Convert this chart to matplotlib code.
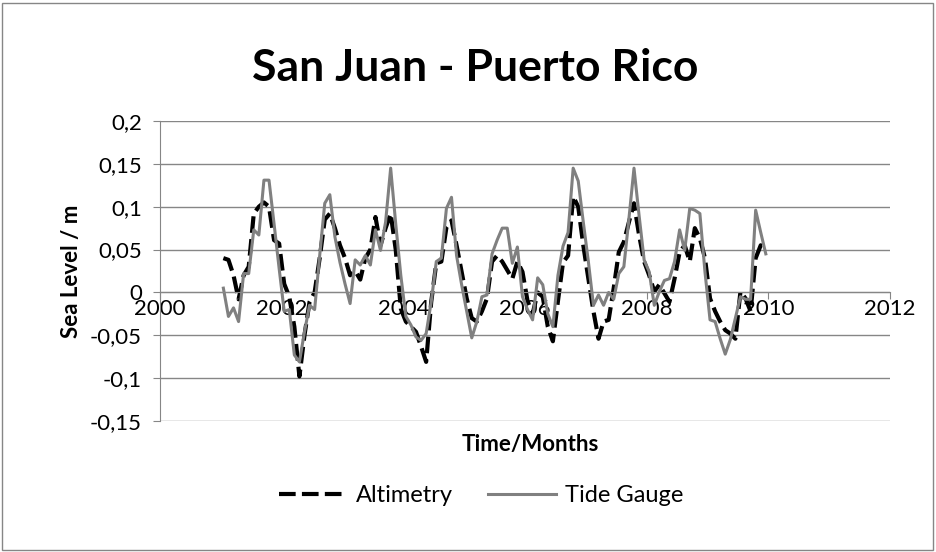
import matplotlib
matplotlib.use("Agg")
import matplotlib.pyplot as plt
from matplotlib.patches import Rectangle
import numpy as np

plt.rcParams['font.family'] = ['Lato', 'DejaVu Sans']

# monthly series, Jan 2001 .. Dec 2009
start_year = 2001
altimetry = [
    0.040, 0.038, 0.020, -0.008, 0.020, 0.030, 0.092, 0.100, 0.105, 0.100, 0.061, 0.057,
    0.010, -0.005, -0.040, -0.098, -0.050, -0.011, 0.000, 0.040, 0.085, 0.092, 0.075, 0.055,
    0.040, 0.020, 0.025, 0.015, 0.040, 0.050, 0.088, 0.055, 0.075, 0.092, 0.050, -0.019,
    -0.034, -0.040, -0.046, -0.063, -0.081, -0.011, 0.034, 0.036, 0.076, 0.084, 0.055, 0.024,
    -0.007, -0.030, -0.034, -0.022, -0.007, 0.036, 0.043, 0.036, 0.026, 0.016, 0.036, 0.024,
    -0.010, -0.025, 0.000, -0.005, -0.040, -0.057, -0.010, 0.035, 0.043, 0.112, 0.100, 0.055,
    0.016, -0.022, -0.054, -0.034, -0.032, 0.005, 0.047, 0.059, 0.082, 0.104, 0.067, 0.036,
    0.020, 0.001, 0.009, -0.001, -0.011, 0.016, 0.047, 0.055, 0.036, 0.075, 0.063, 0.040,
    -0.007, -0.022, -0.034, -0.044, -0.048, -0.054, 0.001, -0.007, -0.022, 0.040, 0.055, 0.052,
]
tide_gauge = [
    0.005, -0.028, -0.018, -0.034, 0.022, 0.022, 0.073, 0.067, 0.131, 0.131, 0.080, 0.028,
    -0.022, -0.020, -0.073, -0.081, -0.046, -0.015, -0.020, 0.043, 0.104, 0.114, 0.065, 0.035,
    0.010, -0.013, 0.038, 0.032, 0.043, 0.032, 0.073, 0.049, 0.082, 0.145, 0.080, 0.020,
    -0.028, -0.038, -0.052, -0.056, -0.048, -0.011, 0.036, 0.040, 0.098, 0.111, 0.043, 0.009,
    -0.022, -0.053, -0.034, -0.005, -0.003, 0.045, 0.061, 0.075, 0.075, 0.034, 0.053, -0.005,
    -0.020, -0.032, 0.017, 0.009, -0.025, -0.040, 0.020, 0.054, 0.070, 0.145, 0.130, 0.082,
    0.036, -0.015, -0.003, -0.015, 0.000, -0.008, 0.022, 0.030, 0.086, 0.145, 0.090, 0.038,
    0.024, -0.015, 0.001, 0.014, 0.016, 0.036, 0.073, 0.049, 0.098, 0.096, 0.092, 0.024,
    -0.032, -0.034, -0.054, -0.072, -0.055, -0.030, -0.005, -0.008, -0.008, 0.096, 0.070, 0.045,
]
x_ticks = [2000, 2002, 2004, 2006, 2008, 2010, 2012]
y_ticks = [-0.15, -0.1, -0.05, 0, 0.05, 0.1, 0.15, 0.2]

t = start_year + (np.arange(len(altimetry)) + 0.5) / 12

grid_col = '#868686'

fig = plt.figure(figsize=(9.36, 5.52), dpi=100)
ax = fig.add_axes([160/936, 1 - 421/552, 730/936, 300/552])

ax.plot(t, altimetry, color='black', lw=3.0, dashes=(4, 1.5), label='Altimetry')
ax.plot(t, tide_gauge, color='#808080', lw=2.2, label='Tide Gauge')

ax.set_xlim(2000, 2012)
ax.set_ylim(-0.15, 0.2)
ax.set_xticks(x_ticks)
ax.set_yticks(y_ticks)
ax.set_yticklabels([('%g' % v).replace('.', ',') for v in y_ticks])
ax.yaxis.grid(True, color=grid_col, lw=1)
ax.set_axisbelow(True)

for s in ['top', 'right']:
    ax.spines[s].set_visible(False)
ax.spines['bottom'].set_position(('data', 0))
ax.spines['bottom'].set_color(grid_col)
ax.spines['left'].set_color(grid_col)
ax.tick_params(axis='both', labelsize=16, colors=grid_col, labelcolor='black', length=5)
ax.tick_params(axis='x', pad=0)
ax.tick_params(axis='y', pad=8)

ax.set_ylabel('Sea Level / m', fontsize=16, fontweight='bold', labelpad=6)
fig.text(530/936, 1 - 445/552, 'Time/Months', fontsize=16, fontweight='bold',
         ha='center', va='center')
fig.text(475/936, 1 - 68/552, 'San Juan - Puerto Rico', fontsize=32, fontweight='bold',
         ha='center', va='center')

fig.legend(loc='center', bbox_to_anchor=(481/936, 1 - 496/552), ncol=2, frameon=False,
           fontsize=17, handlelength=2.9, handletextpad=0.35, columnspacing=1.5)

fig.patches.append(Rectangle((2/936, 2/552), 931/936, 547/552, transform=fig.transFigure,
                             fill=False, edgecolor=grid_col, lw=1))

fig.savefig('out.png', dpi=100)
